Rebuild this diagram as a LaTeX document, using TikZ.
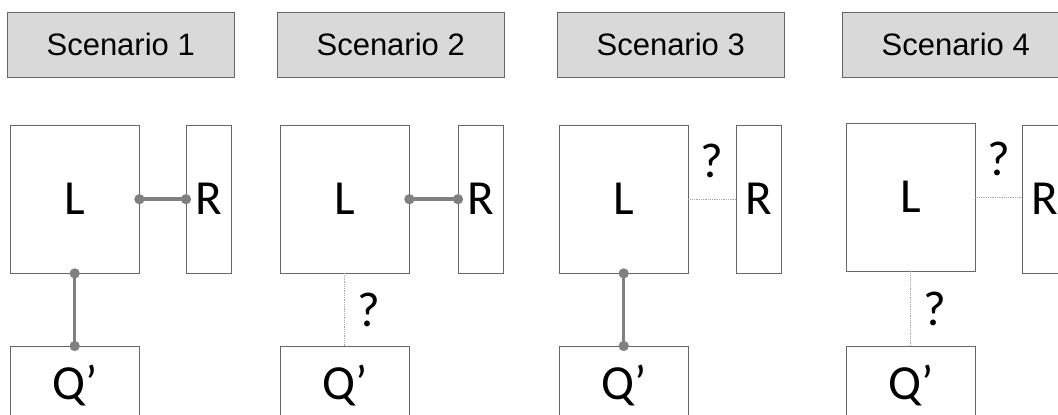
\documentclass[tikz,border=0pt]{standalone}
\usepackage{fontspec}
\newfontfamily\headfont{Liberation Sans}
\newfontfamily\boxfont{Carlito}
\usetikzlibrary{arrows.meta}

\begin{document}
\begin{tikzpicture}[x=1pt, y=-1pt,
    H/.style={draw=black!60, fill=black!15, minimum width=227pt, minimum height=65pt,
      inner sep=0pt, anchor=north west, font=\headfont\fontsize{31}{37}\selectfont},
    Bx/.style={draw=black!60, inner sep=0pt, anchor=north west,
      font=\boxfont\fontsize{49}{59}\selectfont},
    L/.style={Bx, minimum width=129pt, minimum height=148pt},
    R/.style={Bx, minimum width=45pt, minimum height=148pt},
    Q/.style={Bx, minimum width=129pt, text height=32pt, text depth=60pt, inner ysep=21pt},
    link/.style={draw=black!50, line width=3.5pt, {Circle[length=10pt]}-{Circle[length=10pt]},
      shorten <=-5pt, shorten >=-5pt},
    maybe/.style={draw=black!35, line width=0.8pt, densely dotted},
    ask/.style={inner sep=0pt, font=\boxfont\fontsize{49}{59}\selectfont}]

    \useasboundingbox (0,0) rectangle (1058,415);
    \clip (0,0) rectangle (1058,415);

    % Scenari: titolo, L, R, Q'
    \foreach \n/\xa/\xb/\xc/\yl in {1/7/10/186/125, 2/277/280/458/125, 3/557/559/736/125, 4/842/846/1022/123} {
      \node[H] (S\n) at (\xa,12) {Scenario \n};
      \node[L] (L\n) at (\xb,\yl) {L};
      \node[R] (R\n) at (\xc,125) {R};
      \node[Q] (Q\n) at (\xb,346) {Q’};
    }

    % Legami noti
    \draw[link] (L1.east) -- (R1.west |- L1.east);
    \draw[link] (L1.south) -- (Q1.north);
    \draw[link] (L2.east) -- (R2.west |- L2.east);
    \draw[link] (L3.south) -- (Q3.north);

    % Legami incerti
    \draw[maybe] (L2.south) -- (Q2.north) node[ask, midway, right=12pt] {?};
    \draw[maybe] (L3.east) -- (R3.west |- L3.east) node[ask, midway, above=21pt] {?};
    \draw[maybe] (L4.east) -- (R4.west |- L4.east) node[ask, midway, above=21pt] {?};
    \draw[maybe] (L4.south) -- (Q4.north) node[ask, midway, right=12pt] {?};
  \end{tikzpicture}
\end{document}
